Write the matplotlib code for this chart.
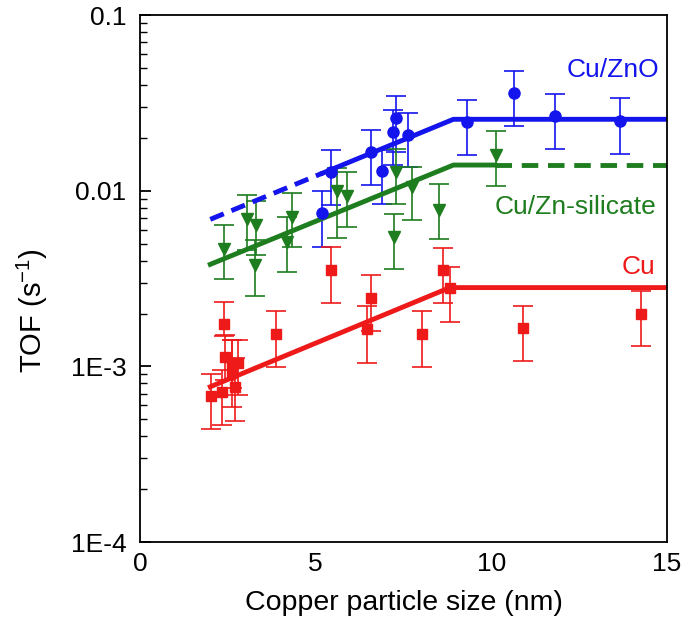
import numpy as np
import matplotlib
matplotlib.use("Agg")
import matplotlib.pyplot as plt
from matplotlib.ticker import FixedLocator, NullFormatter, LogLocator

plt.rcParams['font.family'] = ['Liberation Sans', 'DejaVu Sans']
plt.rcParams['mathtext.fontset'] = 'custom'
plt.rcParams['mathtext.rm'] = 'Liberation Sans'
plt.rcParams['mathtext.it'] = 'Liberation Sans'

# Cu/ZnO (blue circles)
zno_x = [5.19, 5.44, 6.58, 6.88, 7.19, 7.29, 7.64, 9.30, 10.65, 11.82, 13.66]
zno_y = [0.0075, 0.0127, 0.0167, 0.0130, 0.0215, 0.0261, 0.0207, 0.0247, 0.0361, 0.0266, 0.0249]
zno_lo = [0.0048, 0.0083, 0.0108, 0.0084, 0.0140, 0.0167, 0.0137, 0.0160, 0.0234, 0.0172, 0.0161]
zno_hi = [0.0100, 0.0171, 0.0221, 0.0171, 0.0288, 0.0348, 0.0278, 0.0328, 0.0482, 0.0355, 0.0336]

# Cu/Zn-silicate (green triangles)
sil_x = [2.40, 3.04, 3.30, 3.27, 4.17, 4.34, 5.62, 5.88, 7.24, 7.30, 7.73, 8.52, 10.13]
sil_y = [0.00466, 0.00687, 0.00638, 0.00378, 0.00513, 0.00711, 0.0099, 0.0093, 0.00547, 0.0127, 0.0105, 0.0078, 0.0160]
sil_lo = [0.00313, 0.0046, 0.0043, 0.00252, 0.00343, 0.00476, 0.00535, 0.00624, 0.00357, 0.0084, 0.0068, 0.0053, 0.01065]
sil_hi = [0.00638, 0.00946, 0.00873, 0.00523, 0.00711, 0.00975, 0.0134, 0.0128, 0.00735, 0.0172, 0.0137, 0.0109, 0.0220]

# Cu (red squares)
cu_x = [2.01, 2.32, 2.40, 2.42, 2.61, 2.61, 2.70, 2.80, 3.87, 5.43, 6.47, 6.57, 8.02, 8.63, 8.82, 10.89, 14.26]
cu_y = [0.00068, 0.000713, 0.00174, 0.00113, 0.000914, 0.00105, 0.000766, 0.00105, 0.00153, 0.00354, 0.00163, 0.00246, 0.00153, 0.00354, 0.00278, 0.00165, 0.00200]
cu_lo = [0.000439, 0.000463, 0.00149, 0.000838, 0.00059, 0.00075, 0.00049, 0.000687, 0.000998, 0.00231, 0.00105, 0.0016, 0.000996, 0.00231, 0.0018, 0.00107, 0.0013]
cu_hi = [0.000906, 0.000953, 0.00233, 0.00151, 0.00141, 0.00141, 0.00112, 0.00141, 0.00207, 0.0048, 0.00221, 0.00331, 0.00207, 0.0047, 0.00369, 0.00221, 0.00268]

# fitted trend lines (x, y of the break points)
zno_dash_x = [2.0, 5.2]
zno_dash_y = [0.00687, 0.0126]
zno_fit_x = [5.2, 8.92, 15.0]
zno_fit_y = [0.0126, 0.0255, 0.0255]
sil_fit_x = [2.0, 8.92, 10.1]
sil_fit_y = [0.00381, 0.0140, 0.0140]
sil_dash_x = [10.1, 15.0]
sil_dash_y = [0.0140, 0.0140]
cu_fit_x = [2.0, 8.82, 15.0]
cu_fit_y = [0.000766, 0.00281, 0.00281]

blue = "#1414ec"
green = "#1e7d1e"
red = "#ee1a1a"

fig = plt.figure(figsize=(6.85, 6.26), dpi=100)
ax = fig.add_axes([0.2044, 0.134, 0.7693, 0.842])


def errs(y, lo, hi):
    y = np.array(y)
    return [y - np.array(lo), np.array(hi) - y]


ekw = dict(linestyle="none", elinewidth=1.2, capsize=7.5, capthick=1.2)
ax.errorbar(zno_x, zno_y, yerr=errs(zno_y, zno_lo, zno_hi), fmt="o", color=blue, ms=8, **ekw)
ax.errorbar(sil_x, sil_y, yerr=errs(sil_y, sil_lo, sil_hi), fmt="v", color=green, ms=9, **ekw)
ax.errorbar(cu_x, cu_y, yerr=errs(cu_y, cu_lo, cu_hi), fmt="s", color=red, ms=6.5, **ekw)

lw = 3.5
ax.plot(zno_dash_x, zno_dash_y, color=blue, lw=lw, ls=(0, (3, 1.7)))
ax.plot(zno_fit_x, zno_fit_y, color=blue, lw=lw)
ax.plot(sil_fit_x, sil_fit_y, color=green, lw=lw)
ax.plot(sil_dash_x, sil_dash_y, color=green, lw=lw, ls=(0, (3.4, 2)))
ax.plot(cu_fit_x, cu_fit_y, color=red, lw=lw)

ax.text(13.45, 0.0487, "Cu/ZnO", color=blue, fontsize=19, ha="center", va="center")
ax.text(12.4, 0.0081, "Cu/Zn-silicate", color=green, fontsize=19, ha="center", va="center")
ax.text(14.2, 0.0037, "Cu", color=red, fontsize=19, ha="center", va="center")

ax.set_yscale("log")
ax.set_xlim(0, 15)
ax.set_ylim(1e-4, 0.1)
ax.set_xticks([0, 5, 10, 15])
ax.set_xticklabels(["0", "5", "10", "15"])
ax.yaxis.set_major_locator(FixedLocator([1e-4, 1e-3, 1e-2, 1e-1]))
ax.set_yticklabels(["1E-4", "1E-3", "0.01", "0.1"])
ax.yaxis.set_minor_locator(LogLocator(base=10, subs=np.arange(2, 10)))
ax.yaxis.set_minor_formatter(NullFormatter())
ax.tick_params(axis="y", which="major", direction="in", length=8, width=1.3, labelsize=19, pad=10, right=False)
ax.tick_params(axis="y", which="minor", direction="in", length=5, width=1, right=False)
ax.tick_params(axis="x", which="both", length=0, labelsize=19, pad=7, top=False)
for s in ax.spines.values():
    s.set_linewidth(1.3)

ax.set_xlabel("Copper particle size (nm)", fontsize=20.5)
ax.set_ylabel("TOF (s$^{-1}$)", fontsize=21)
ax.xaxis.set_label_coords(0.5, -0.09)
ax.yaxis.set_label_coords(-0.17, 0.44)

fig.savefig("out.png", dpi=100)
